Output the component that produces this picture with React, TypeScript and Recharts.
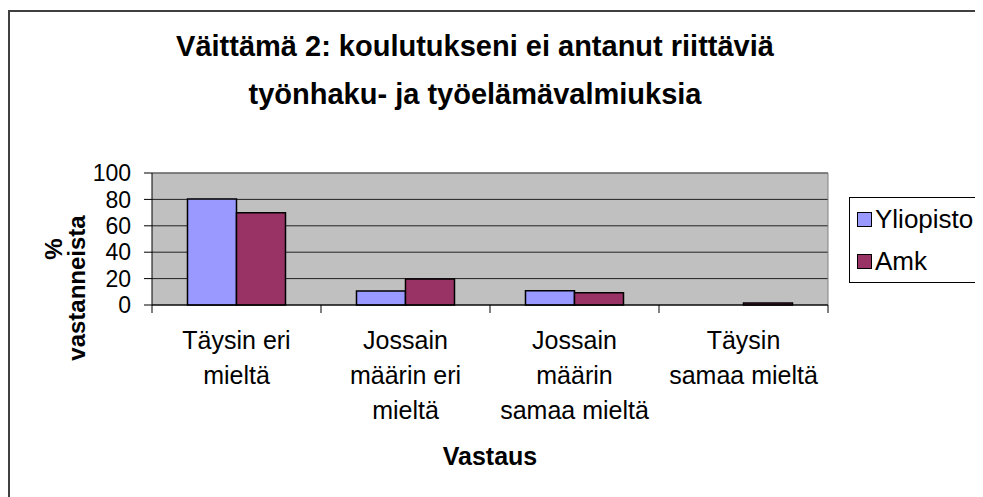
import React from 'react';
import { BarChart, Bar, XAxis, YAxis, CartesianGrid } from 'recharts';

const categories: string[][] = [
  ['Täysin eri', 'mieltä'],
  ['Jossain', 'määrin eri', 'mieltä'],
  ['Jossain', 'määrin', 'samaa mieltä'],
  ['Täysin', 'samaa mieltä'],
];
const yliopisto = [80.3, 10.6, 10.8, 0];
const amk = [69.9, 19.7, 9.3, 1.6];
const yTicks = [0, 20, 40, 60, 80, 100];
const seriesNames = ['Yliopisto', 'Amk'];
const seriesColors = ['#9999FF', '#993366'];
const titleLines = ['Väittämä 2: koulutukseni ei antanut riittäviä', 'työnhaku- ja työelämävalmiuksia'];
const yLabelLines = ['%', 'vastanneista'];
const xLabel = 'Vastaus';

const data = categories.map((c, i) => ({ name: c.join('\n'), Yliopisto: yliopisto[i], Amk: amk[i] }));

const FONT = '"Liberation Sans", Arial, sans-serif';
const W = 1000;
const H = 520;
const MARGIN = { top: 161, left: 82, right: 182, bottom: 77 };
const Y_AXIS_W = 60;
const X_AXIS_H = 150;
const PLOT_W = W - MARGIN.left - MARGIN.right - Y_AXIS_W;

const XTick = (props: any) => {
  const { x, y, payload, index } = props;
  const band = PLOT_W / categories.length;
  const lines: string[] = String(payload.value).split('\n');
  const last = index === categories.length - 1;
  return (
    <g>
      <line x1={x - band / 2} x2={x - band / 2} y1={y} y2={y + 8} stroke="#000" strokeWidth={1} />
      {last && <line x1={x + band / 2} x2={x + band / 2} y1={y} y2={y + 8} stroke="#000" strokeWidth={1} />}
      <text x={x} y={y + 44} textAnchor="middle" fontSize={25} fontFamily={FONT} fill="#000">
        {lines.map((l, i) => (
          <tspan key={i} x={x} dy={i === 0 ? 0 : 35}>{l}</tspan>
        ))}
      </text>
    </g>
  );
};

const YLabel = () => (
  <g>
    <text x={43} y={237} transform="rotate(-90 43 237)" textAnchor="middle" dominantBaseline="central"
      fontSize={24} fontWeight="bold" fontFamily={FONT} fill="#000">{yLabelLines[0]}</text>
    <text x={66} y={276} transform="rotate(-90 66 276)" textAnchor="middle" dominantBaseline="central"
      fontSize={24} fontWeight="bold" fontFamily={FONT} fill="#000">{yLabelLines[1]}</text>
  </g>
);

const XLabel = (props: any) => {
  const vb = props.viewBox || { x: 0, width: 0 };
  return (
    <text x={vb.x + vb.width / 2} y={453} textAnchor="middle" fontSize={25} fontWeight="bold"
      fontFamily={FONT} fill="#000">{xLabel}</text>
  );
};

export default function App() {
  return (
    <div style={{ position: 'relative', top: 2, width: W, height: H, border: '2px solid #404040', borderRight: 'none', borderBottom: 'none', background: '#fff', fontFamily: FONT }}>
      <div style={{ position: 'absolute', left: 0, top: 10, width: 930, textAlign: 'center', fontSize: 29, fontWeight: 'bold', lineHeight: '48px', color: '#000' }}>
        {titleLines.map((t, i) => <div key={i}>{t}</div>)}
      </div>
      <div style={{ position: 'absolute', left: 839, top: 185, width: 150, height: 84, border: '1px solid #000', background: '#fff' }}>
        {seriesNames.map((n, i) => (
          <div key={n} style={{ position: 'absolute', left: 7, top: 6 + i * 42, height: 30, display: 'flex', alignItems: 'center', fontSize: 26, color: '#000' }}>
            <span style={{ display: 'inline-block', width: 13, height: 13, background: seriesColors[i], border: '1px solid #000', marginRight: 3 }} />
            {n}
          </div>
        ))}
      </div>
      <BarChart width={W} height={H} data={data} margin={MARGIN} barCategoryGap="21%" barGap={0}>
        <CartesianGrid fill="#C0C0C0" vertical={false} stroke="#222" strokeOpacity={1} />
        <CartesianGrid
          fill="none"
          stroke="#808080"
          horizontalCoordinatesGenerator={({ offset }: any) => [offset.top]}
          verticalCoordinatesGenerator={({ offset }: any) => [offset.left + offset.width]}
        />
        <XAxis
          dataKey="name"
          height={X_AXIS_H}
          tickLine={false}
          tickSize={0}
          tickMargin={0}
          axisLine={{ stroke: '#000' }}
          tick={<XTick />}
          interval={0}
          label={<XLabel />}
        />
        <YAxis
          width={Y_AXIS_W}
          domain={[0, 100]}
          ticks={yTicks}
          interval={0}
          axisLine={{ stroke: '#000' }}
          tickLine={{ stroke: '#000' }}
          tickSize={8}
          tickMargin={13}
          tick={{ fontSize: 23, fill: '#000', fontFamily: FONT }}
          label={<YLabel />}
        />
        <Bar dataKey="Yliopisto" fill={seriesColors[0]} stroke="#000" strokeWidth={1.5} isAnimationActive={false} />
        <Bar dataKey="Amk" fill={seriesColors[1]} stroke="#000" strokeWidth={1.5} isAnimationActive={false} />
      </BarChart>
    </div>
  );
}
